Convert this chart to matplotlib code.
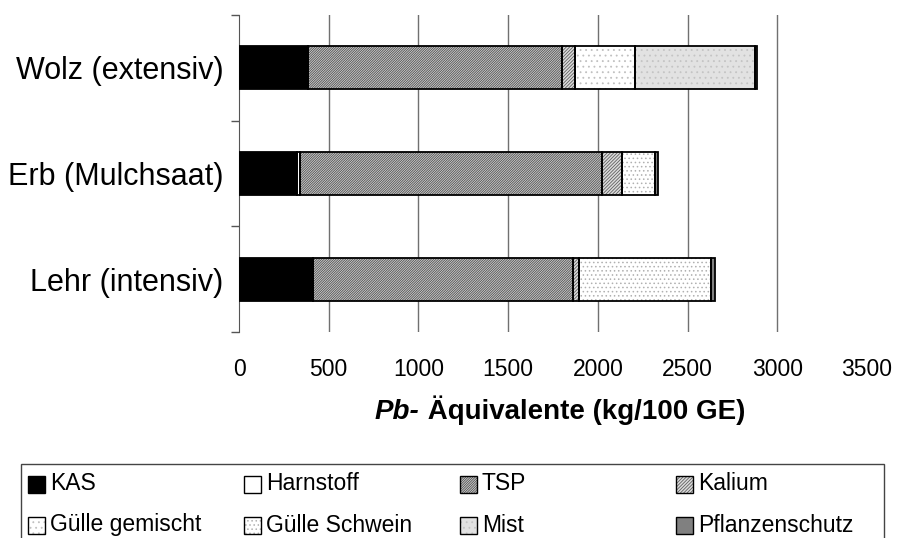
import matplotlib
matplotlib.use('Agg')
import matplotlib.pyplot as plt
from matplotlib.patches import Rectangle
import numpy as np

plt.rcParams['font.family'] = ['Liberation Sans', 'DejaVu Sans']
plt.rcParams['hatch.linewidth'] = 0.6

# Betriebe (unten nach oben) und Anteile je Quelle, kg/100 GE
betriebe = ['Lehr (intensiv)', 'Erb (Mulchsaat)', 'Wolz (extensiv)']
quellen = ['KAS', 'Harnstoff', 'TSP', 'Kalium',
           'Gülle gemischt', 'Gülle Schwein', 'Mist', 'Pflanzenschutz']
kas = [414, 321, 386]
harnstoff = [0, 20, 0]
tsp = [1449, 1680, 1412]
kalium = [33, 115, 74]
guelle_gemischt = [0, 0, 335]
guelle_schwein = [736, 182, 0]
mist = [0, 0, 668]
pflanzenschutz = [21, 19, 10]
werte = [kas, harnstoff, tsp, kalium, guelle_gemischt, guelle_schwein, mist, pflanzenschutz]
xticks = [0, 500, 1000, 1500, 2000, 2500, 3000, 3500]

# Fuellung, Schraffur, Schraffurfarbe
stile = [
    ('black', None, 'black'),
    ('white', None, 'white'),
    ('#d2d2d2', '/' * 14, '#505050'),
    ('#dcdcdc', '/' * 10, '#606060'),
    ('white', '.' * 3, '#c0c0c0'),
    ('white', '.' * 4, '#b0b0b0'),
    ('#e2e2e2', '.' * 3, '#c4c4c4'),
    ('#808080', None, '#808080'),
]

W, H = 898, 538
fig = plt.figure(figsize=(W / 100, H / 100), dpi=100)
ax = fig.add_axes([239 / W, 1 - 332 / H, (867 - 239) / W, (332 - 15) / H])

y = np.arange(len(betriebe))
links = np.zeros(len(betriebe))
for vals, (face, hatch, hc) in zip(werte, stile):
    vals = np.array(vals, dtype=float)
    ax.barh(y, vals, left=links, height=0.41, color=face, hatch=hatch,
            edgecolor=hc, linewidth=0, zorder=3)
    ax.barh(y, vals, left=links, height=0.41, fill=False,
            edgecolor='black', linewidth=1.3, zorder=4)
    links += vals

ax.set_xlim(0, 3500)
ax.set_ylim(-0.5, 2.5)
ax.set_xticks(xticks)
ax.set_xticklabels([str(t) for t in xticks], fontsize=16.5)
ax.tick_params(axis='x', length=0, pad=19)
for t in xticks[1:-1]:
    ax.axvline(t, color='#707070', linewidth=1, zorder=1)

ax.set_yticks(y)
ax.set_yticklabels(betriebe, fontsize=22)
ax.set_yticks(np.arange(-0.5, 3.0, 1.0), minor=True)
ax.tick_params(axis='y', which='major', length=0, pad=11)
ax.tick_params(axis='y', which='minor', length=6, width=1, color='#555555')

for s in ['top', 'right', 'bottom']:
    ax.spines[s].set_visible(False)
ax.spines['left'].set_color('#555555')

# Achsentitel: "Pb-" fett kursiv, Rest fett
t1 = fig.text(375 / W, 1 - 412 / H, 'Pb-', fontsize=20, fontweight='bold',
              style='italic', va='center', ha='left')
fig.canvas.draw()
ax.annotate(' Äquivalente (kg/100 GE)', xy=(1, 0), xycoords=t1,
            va='bottom', ha='left', fontsize=20, fontweight='bold')

# Legende als Kasten unter dem Diagramm
fig.add_artist(Rectangle((21 / W, -0.05), (884 - 21) / W, 1 - 464 / H + 0.05,
                         transform=fig.transFigure, fill=False,
                         edgecolor='#444444', linewidth=1))
for i, (name, (face, hatch, hc)) in enumerate(zip(quellen, stile)):
    px = 28 + (i % 4) * 216
    py = 484 + (i // 4) * 41
    box = (px / W, 1 - (py + 8.5) / H)
    size = (17 / W, 17 / H)
    fig.add_artist(Rectangle(box, *size, transform=fig.transFigure,
                             facecolor=face, hatch=hatch, edgecolor=hc, linewidth=0))
    fig.add_artist(Rectangle(box, *size, transform=fig.transFigure,
                             fill=False, edgecolor='black', linewidth=1))
    fig.text((px + 22) / W, 1 - py / H, name, fontsize=16.5, va='center', ha='left')

fig.savefig('out.png', dpi=100)
